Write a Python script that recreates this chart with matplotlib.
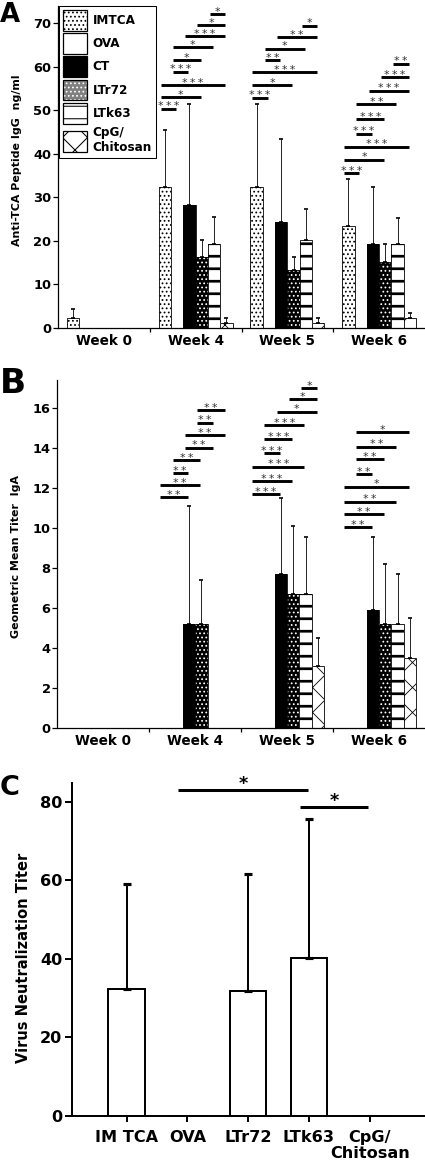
import numpy as np
import matplotlib.pyplot as plt
from matplotlib.patches import Patch

plt.rcParams['font.family'] = ['DejaVu Sans']
plt.rcParams['font.weight'] = 'bold'

DPI = 75
W, H = 425, 1166

# ---------------- data ----------------
weeks = ['Week 0', 'Week 4', 'Week 5', 'Week 6']
groups = ['IMTCA', 'OVA', 'CT', 'LTr72', 'LTk63', 'CpG/\nChitosan']

# A: anti-TCA peptide IgG (ng/ml), mean and upper SD
igg_imtca = [2.2, 32.3, 32.3, 23.3]
igg_ova = [0, 0, 0, 0]
igg_ct = [0, 28.2, 24.4, 19.3]
igg_ltr72 = [0, 16.2, 13.3, 15.2]
igg_ltk63 = [0, 19.3, 20.3, 19.3]
igg_cpg = [0, 1.2, 1.2, 2.2]
igg_imtca_sd = [2.1, 13.1, 19.1, 11.0]
igg_ova_sd = [0, 0, 0, 0]
igg_ct_sd = [0, 23.2, 18.9, 13.0]
igg_ltr72_sd = [0, 4.1, 3.0, 4.1]
igg_ltk63_sd = [0, 6.1, 7.1, 6.0]
igg_cpg_sd = [0, 1.0, 1.1, 1.2]

# B: geometric mean titer IgA
iga_imtca = [0, 0, 0, 0]
iga_ova = [0, 0, 0, 0]
iga_ct = [0, 5.2, 7.7, 5.9]
iga_ltr72 = [0, 5.2, 6.7, 5.2]
iga_ltk63 = [0, 0, 6.7, 5.2]
iga_cpg = [0, 0, 3.1, 3.5]
iga_imtca_sd = [0, 0, 0, 0]
iga_ova_sd = [0, 0, 0, 0]
iga_ct_sd = [0, 5.9, 3.8, 3.65]
iga_ltr72_sd = [0, 2.2, 3.4, 3.0]
iga_ltk63_sd = [0, 0, 2.85, 2.5]
iga_cpg_sd = [0, 0, 1.4, 2.0]

# significance: (week, group i, group j, height, label)
igg_sig = [
    (1, 0, 1, 50.3, '***'), (1, 0, 3, 53.0, '*'), (1, 0, 5, 55.8, '***'),
    (1, 1, 2, 58.8, '***'), (1, 1, 3, 61.5, '*'), (1, 1, 4, 64.5, '*'),
    (1, 2, 5, 67.0, '***'), (1, 3, 5, 69.5, '*'), (1, 4, 5, 72.1, '*'),
    (2, 0, 1, 52.9, '***'), (2, 0, 3, 55.7, '*'), (2, 0, 5, 58.7, '***'),
    (2, 1, 2, 61.5, '**'), (2, 1, 4, 64.1, '*'), (2, 2, 5, 66.7, '**'),
    (2, 4, 5, 69.4, '*'),
    (3, 0, 1, 35.6, '***'), (3, 0, 3, 38.6, '*'), (3, 0, 5, 41.6, '***'),
    (3, 1, 2, 44.6, '***'), (3, 1, 3, 47.9, '***'), (3, 1, 4, 51.3, '**'),
    (3, 2, 5, 54.5, '***'), (3, 3, 5, 57.6, '***'), (3, 4, 5, 60.7, '**'),
]
iga_sig = [
    (1, 0, 2, 11.52, '**'), (1, 0, 3, 12.12, '**'), (1, 1, 2, 12.72, '**'),
    (1, 1, 3, 13.37, '**'), (1, 2, 4, 14.0, '**'), (1, 2, 5, 14.62, '**'),
    (1, 3, 4, 15.25, '**'), (1, 3, 5, 15.88, '**'),
    (2, 0, 2, 11.68, '***'), (2, 0, 3, 12.33, '***'), (2, 0, 4, 13.05, '***'),
    (2, 1, 2, 13.72, '***'), (2, 1, 3, 14.42, '***'), (2, 1, 4, 15.12, '***'),
    (2, 2, 5, 15.8, '*'), (2, 3, 5, 16.42, '*'), (2, 4, 5, 16.97, '*'),
    (3, 0, 2, 10.02, '**'), (3, 0, 3, 10.67, '**'), (3, 0, 4, 11.3, '**'),
    (3, 0, 5, 12.05, '*'), (3, 1, 2, 12.68, '**'), (3, 1, 3, 13.42, '**'),
    (3, 1, 4, 14.05, '**'), (3, 1, 5, 14.77, '*'),
]

# C: virus neutralization titer
vn_groups = ['IM TCA', 'OVA', 'LTr72', 'LTk63', 'CpG/\nChitosan']
vn_mean = [32.2, 0, 31.9, 40.1, 0]
vn_sd = [26.8, 0, 29.7, 35.4, 0]
vn_sig = [(1, 3, 83.0, '*'), (3, 4, 78.7, '*')]

# ---------------- styles ----------------
# face, hatch, hatch colour, hatch linewidth
styles = [
    ('white', '...', 'black', 1.0),
    ('white', None, 'black', 1.0),
    ('black', None, 'black', 1.0),
    ('black', '...', 'white', 1.0),
    ('white', '-', 'black', 2.6),
    ('white', 'x', 'black', 0.8),
]
BW = 0.134

fig = plt.figure(figsize=(W / DPI, H / DPI), dpi=DPI)


def px_axes(left, top, right, bottom):
    return fig.add_axes([left / W, 1 - bottom / H, (right - left) / W, (bottom - top) / H])


def style_axes(ax, lw):
    for s in ['top', 'right']:
        ax.spines[s].set_visible(False)
    for s in ['left', 'bottom']:
        ax.spines[s].set_linewidth(lw)


def grouped_bars(ax, series, sds):
    x = np.arange(len(weeks))
    for k, (vals, sd) in enumerate(zip(series, sds)):
        face, hatch, hc, hlw = styles[k]
        pos = x + (k - 2.5) * BW
        with plt.rc_context({'hatch.linewidth': hlw}):
            bars = ax.bar(pos, vals, BW, color=face, edgecolor=hc, hatch=hatch, linewidth=0)
        for b in bars:
            if hasattr(b, 'set_hatch_linewidth'):
                b.set_hatch_linewidth(hlw)
        ax.bar(pos, vals, BW, fill=False, edgecolor='black', linewidth=0.8)
        vals = np.asarray(vals, float)
        sd = np.asarray(sd, float)
        m = sd > 0
        ax.errorbar(pos[m], vals[m], yerr=[np.zeros(m.sum()), sd[m]], fmt='none',
                    ecolor='black', elinewidth=0.8, capsize=1.6, capthick=1.6)


def sig_bars(ax, sig):
    for wk, i, j, y, lab in sig:
        x0 = wk + (i - 2.5) * BW - 0.35 * BW
        x1 = wk + (j - 2.5) * BW - 0.1 * BW
        ax.plot([x0, x1], [y, y], color='black', lw=2.8, solid_capstyle='butt')
        ax.annotate('\u2009'.join(lab), ((x0 + x1) / 2, y), xytext=(0, -0.6),
                    textcoords='offset points', ha='center', va='baseline',
                    fontsize=10.5, color='#333333', fontweight='normal')


def week_axis(ax, ymax, step):
    ax.set_xlim(-0.5, 3.5)
    ax.set_ylim(0, ymax)
    ax.set_yticks(np.arange(0, ymax, step))
    ax.set_xticks([0.5, 1.5, 2.5])
    ax.set_xticklabels([])
    ax.set_xticks(np.arange(4), minor=True)
    ax.set_xticklabels(weeks, minor=True)
    ax.tick_params(axis='x', which='major', direction='out', length=4, width=1.2)
    ax.tick_params(axis='x', which='minor', length=0, pad=6, labelsize=13)
    ax.tick_params(axis='y', direction='out', length=4.5, width=1.2, pad=2, labelsize=12.5)
    style_axes(ax, 1.2)


# ---------------- panel A ----------------
axA = px_axes(58, 5.6, 425, 328)
grouped_bars(axA, [igg_imtca, igg_ova, igg_ct, igg_ltr72, igg_ltk63, igg_cpg],
             [igg_imtca_sd, igg_ova_sd, igg_ct_sd, igg_ltr72_sd, igg_ltk63_sd, igg_cpg_sd])
sig_bars(axA, igg_sig)
week_axis(axA, 74, 10)

handles = []
legend_faces = ['white', 'white', 'black', '#808080', 'white', 'white']
for k, (face, hatch, hc, hlw) in enumerate(styles):
    with plt.rc_context({'hatch.linewidth': hlw}):
        p = Patch(facecolor=legend_faces[k], edgecolor=hc, hatch=hatch, linewidth=0)
    if hasattr(p, 'set_hatch_linewidth'):
        p.set_hatch_linewidth(hlw)
    handles.append((p, Patch(fill=False, edgecolor='black', linewidth=1.2)))
leg = axA.legend(handles, groups, loc='upper left', bbox_to_anchor=(0.003, 1.0),
                 borderaxespad=0, fancybox=False, framealpha=1, edgecolor='black',
                 fontsize=11.5, handlelength=2.0, handleheight=2.3, labelspacing=0.2,
                 handletextpad=0.45, borderpad=0.35)
leg.get_frame().set_linewidth(1.0)

# ---------------- panel B ----------------
axB = px_axes(57.5, 379.7, 425, 727.7)
grouped_bars(axB, [iga_imtca, iga_ova, iga_ct, iga_ltr72, iga_ltk63, iga_cpg],
             [iga_imtca_sd, iga_ova_sd, iga_ct_sd, iga_ltr72_sd, iga_ltk63_sd, iga_cpg_sd])
sig_bars(axB, iga_sig)
week_axis(axB, 17.4, 2)

# ---------------- panel C ----------------
axC = px_axes(72, 782.9, 425, 1115.7)
xc = np.arange(len(vn_groups))
axC.bar(xc, vn_mean, 0.6, color='white', edgecolor='black', linewidth=1.9)
m = np.asarray(vn_sd) > 0
axC.errorbar(xc[m], np.asarray(vn_mean)[m], yerr=[np.zeros(m.sum()), np.asarray(vn_sd)[m]],
             fmt='none', ecolor='black', elinewidth=1.9, capsize=3.6, capthick=3)
for i, j, y, lab in vn_sig:
    axC.plot([xc[i] - 0.15, xc[j] - 0.02], [y, y], color='black', lw=2.9, solid_capstyle='butt')
    axC.annotate(lab, ((xc[i] + xc[j]) / 2 - 0.08, y), xytext=(0, 0.5), textcoords='offset points',
                 ha='center', va='baseline', fontsize=17, annotation_clip=False)
axC.set_xlim(-0.9, 4.91)
axC.set_ylim(0, 84.8)
axC.set_yticks([0, 20, 40, 60, 80])
axC.set_xticks(xc)
axC.set_xticklabels(vn_groups, linespacing=1.1)
axC.tick_params(axis='x', direction='out', length=6, width=1.9, pad=8, labelsize=15.5)
axC.tick_params(axis='y', direction='out', length=6.5, width=1.9, pad=3, labelsize=15.5)
style_axes(axC, 1.9)

# ---------------- labels ----------------
fig.text(17 / W, 1 - 160 / H, 'Anti-TCA Peptide IgG  ng/ml', rotation=90,
         ha='center', va='center', fontsize=10.5)
fig.text(16.5 / W, 1 - 556 / H, 'Geometric Mean Titer  IgA', rotation=90,
         ha='center', va='center', fontsize=10.5)
fig.text(24 / W, 1 - 958 / H, 'Virus Neutralization Titer', rotation=90,
         ha='center', va='center', fontsize=14)
fig.text(0 / W, 1 - 22 / H, 'A', ha='left', va='baseline', fontsize=25)
fig.text(0 / W, 1 - 393 / H, 'B', ha='left', va='baseline', fontsize=33)
fig.text(0 / W, 1 - 795 / H, 'C', ha='left', va='baseline', fontsize=26)

fig.savefig('out.png', dpi=DPI)
